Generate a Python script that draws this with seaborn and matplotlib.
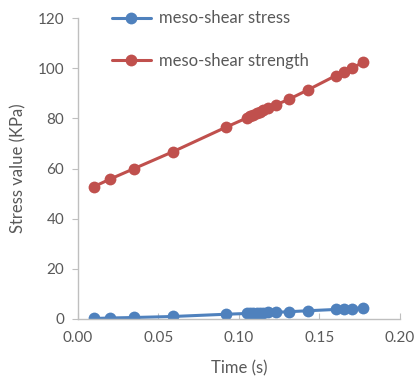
import pandas as pd
import seaborn as sns
import matplotlib.pyplot as plt

# values
time_s = [0.010, 0.020, 0.035, 0.059, 0.092, 0.105, 0.107, 0.109, 0.111, 0.113,
          0.115, 0.118, 0.123, 0.131, 0.143, 0.160, 0.165, 0.170, 0.177]
shear_stress = [0.2, 0.4, 0.6, 1.0, 1.9, 2.2, 2.3, 2.3, 2.4, 2.4,
                2.5, 2.6, 2.7, 2.9, 3.3, 3.8, 3.9, 4.1, 4.5]
shear_strength = [52.8, 55.8, 60.0, 66.7, 76.5, 80.2, 80.8, 81.4, 82.0, 82.6,
                  83.2, 84.0, 85.4, 87.6, 91.4, 97.0, 98.5, 100.0, 102.3]
series_names = ["meso-shear stress", "meso-shear strength"]

df = pd.concat([
    pd.DataFrame({"time": time_s, "value": shear_stress, "series": series_names[0]}),
    pd.DataFrame({"time": time_s, "value": shear_strength, "series": series_names[1]}),
])

sns.set_style("white")
plt.rcParams["font.family"] = ["Lato", "DejaVu Sans"]
grey = "#595959"

fig = plt.figure(figsize=(4.18, 3.76), dpi=100)
ax = fig.add_axes([0.1866, 0.1516, 0.7703, 0.8005])

sns.lineplot(data=df, x="time", y="value", hue="series",
             palette=["#4F81BD", "#C0504D"], marker="o", markersize=8.5,
             markeredgewidth=0, linewidth=2.2, estimator=None, sort=False, ax=ax)

ax.set_xlim(0, 0.20)
ax.set_ylim(0, 120)
ax.set_xticks([0, 0.05, 0.10, 0.15, 0.20])
ax.set_xticklabels(["0.00", "0.05", "0.10", "0.15", "0.20"])
ax.set_yticks(range(0, 121, 20))
ax.tick_params(axis="x", direction="in", length=4, color="#BFBFBF", colors=grey,
               labelsize=11, pad=9, bottom=True)
ax.tick_params(axis="y", direction="out", length=4, color="#BFBFBF", colors=grey,
               labelsize=11, pad=6, left=True)
for s in ["top", "right"]:
    ax.spines[s].set_visible(False)
for s in ["left", "bottom"]:
    ax.spines[s].set_color("#BFBFBF")
    ax.spines[s].set_linewidth(1)

ax.set_xlabel("Time (s)", fontsize=12, color=grey, labelpad=11)
ax.set_ylabel("Stress value (KPa)", fontsize=12, color=grey, labelpad=8)

leg = ax.legend(loc="upper left", frameon=False, fontsize=12, handlelength=2.3,
                handletextpad=0.5, labelspacing=1.6,
                bbox_to_anchor=(0.06, 1.075))
for t in leg.get_texts():
    t.set_color(grey)

fig.savefig("out.png", dpi=100)
